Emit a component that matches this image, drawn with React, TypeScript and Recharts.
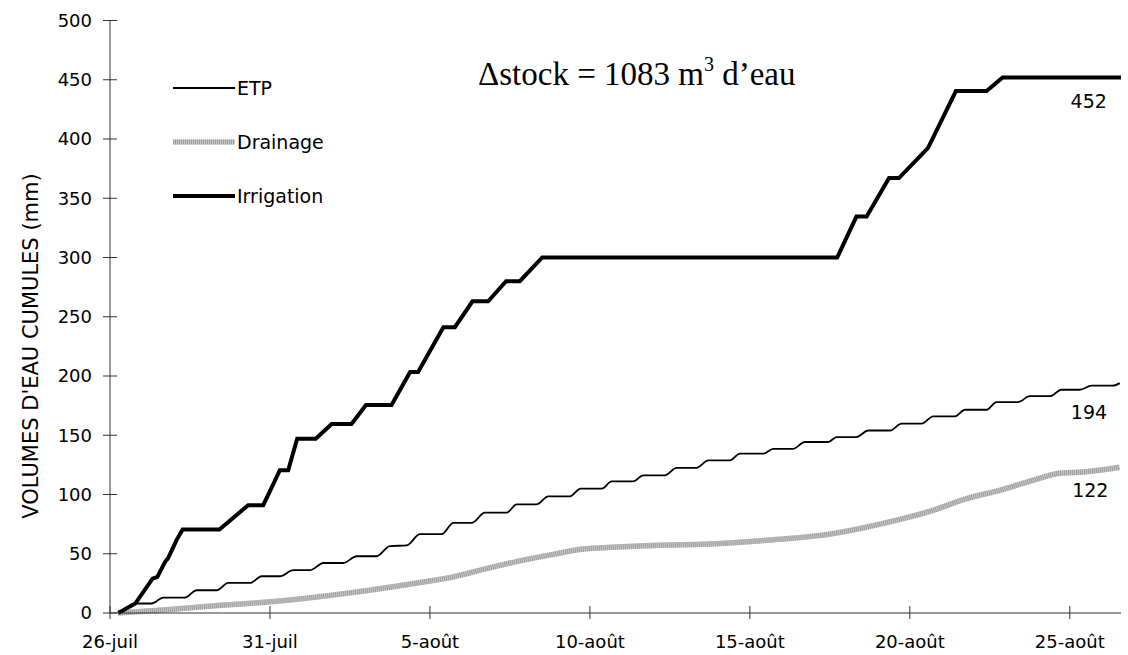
import React from 'react';
import { LineChart, Line, XAxis, YAxis, ReferenceDot } from 'recharts';

// jours depuis le 26-juil
const xTicks = [0, 5, 10, 15, 20, 25, 30];
const xTickLabels = ['26-juil', '31-juil', '5-août', '10-août', '15-août', '20-août', '25-août'];
const yTicks = [0, 50, 100, 150, 200, 250, 300, 350, 400, 450, 500];

const etpDays = [
  0.31, 0.83, 1.3, 1.67, 2.34, 2.71, 3.33, 3.7, 4.38, 4.74, 5.31, 5.73, 6.25, 6.67, 7.29, 7.71,
  8.33, 8.75, 9.27, 9.69, 10.37, 10.73, 11.3, 11.72, 12.4, 12.71, 13.33, 13.7, 14.38, 14.71,
  15.37, 15.68, 16.35, 16.67, 17.34, 17.71, 18.33, 18.7, 19.38, 19.69, 20.42, 20.73, 21.35, 21.72,
  22.45, 22.71, 23.33, 23.7, 24.38, 24.74, 25.37, 25.73, 26.41, 26.72, 27.4, 27.71, 28.38, 28.75,
  29.38, 29.74, 30.31, 30.68, 31.35, 31.56,
];
const etpValues = [
  0, 8, 8, 13, 13, 19.2, 19.2, 25.4, 25.4, 31, 31, 36.1, 36.1, 42.2, 42.2, 47.9,
  47.9, 56.5, 57, 66.5, 66.5, 76, 76, 84.7, 84.7, 91.7, 91.7, 98.5, 98.5, 105,
  105, 111, 111, 116.2, 116.2, 122.5, 122.5, 128.8, 128.8, 134.5, 134.5, 138.5, 138.5, 144.3,
  144.3, 148.5, 148.5, 154, 154, 159.8, 159.8, 166, 166, 171.5, 171.5, 178, 178, 183,
  183, 188.4, 188.4, 191.8, 191.8, 194,
];

const drainageDays = [
  0.25, 1.88, 3.2, 5.0, 7.5, 9.69, 10.73, 11.77, 12.81, 13.85, 14.79, 15.52, 16.98, 19.06, 20.52,
  22.6, 23.65, 24.69, 25.73, 26.77, 27.81, 28.85, 29.69, 30.42, 31.56,
];
const drainageValues = [
  0, 3, 6, 9.4, 17, 25.7, 30.5, 37.5, 44, 49.5, 54, 55.2, 57, 58.6, 61.4,
  67, 72.5, 79, 86.7, 96.5, 103.5, 112, 118, 119, 123,
];

const irrigationDays = [
  0.26, 0.79, 1.33, 1.48, 1.72, 1.82, 2.08, 2.27, 3.42, 4.32, 4.79, 5.31, 5.57, 5.85, 6.43, 6.93,
  7.55, 8.0, 8.8, 9.38, 9.63, 10.42, 10.78, 11.33, 11.82, 12.38, 12.81, 13.51, 22.73, 23.33, 23.65,
  24.35, 24.66, 25.57, 26.44, 27.4, 27.9, 31.6,
];
const irrigationValues = [
  0, 8, 29, 30.5, 43, 46.5, 61.5, 70.5, 70.5, 91, 91, 120.5, 120.5, 147, 147, 159.5,
  159.5, 175.5, 175.5, 203.3, 203.3, 241.2, 241.2, 263, 263, 280, 280, 300, 300, 334.5, 334.5,
  367, 367, 392.5, 440.5, 440.5, 452, 452,
];

const toPoints = (days: number[], values: number[]) =>
  days.map((d, i) => ({ day: d, v: values[i] }));

const etp = toPoints(etpDays, etpValues);
const drainage = toPoints(drainageDays, drainageValues);
const irrigation = toPoints(irrigationDays, irrigationValues);

const FONT = '"DejaVu Sans", Arial, sans-serif';
const AXIS = '#333';

const XTick = (props: any) => {
  const { x, y, payload } = props;
  const i = xTicks.indexOf(payload.value);
  return (
    <g>
      <line x1={x} x2={x} y1={y - 7} y2={y + 6} stroke={AXIS} strokeWidth={1} />
      <text x={x} y={y + 35} textAnchor="middle" fontSize={18} fontFamily={FONT} fill="#000">
        {xTickLabels[i]}
      </text>
    </g>
  );
};

const YTick = (props: any) => {
  const { x, y, payload } = props;
  return (
    <g>
      <line x1={x - 7} x2={x + 7} y1={y} y2={y} stroke={AXIS} strokeWidth={1} />
      <text x={x - 18} y={y} dy="0.36em" textAnchor="end" fontSize={18} fontFamily={FONT} fill="#000">
        {payload.value}
      </text>
    </g>
  );
};

const legendRows = [
  { name: 'ETP', color: '#000', width: 1.8, pattern: false },
  { name: 'Drainage', color: '#c8c8c8', width: 5, pattern: true },
  { name: 'Irrigation', color: '#000', width: 4, pattern: false },
];

const endLabel = (text: string) => ({
  value: text,
  position: 'center' as const,
  fontSize: 19,
  fontFamily: FONT,
  fill: '#000',
});

export default function App() {
  return (
    <div style={{ position: 'absolute', left: 0, top: 0, width: 1128, height: 655, background: '#fff' }}>
      <LineChart width={1128} height={655} margin={{ top: 20.5, right: 7, left: 0, bottom: 0 }}>
        <XAxis
          dataKey="day"
          type="number"
          domain={[0, 31.6]}
          ticks={xTicks}
          tick={<XTick />}
          tickLine={false}
          tickSize={0}
          tickMargin={0}
          height={42}
          stroke={AXIS}
          allowDataOverflow
        />
        <YAxis
          type="number"
          domain={[0, 500]}
          ticks={yTicks}
          width={110}
          tick={<YTick />}
          tickLine={false}
          tickSize={0}
          tickMargin={0}
          stroke={AXIS}
        />
        <Line
          data={drainage}
          dataKey="v"
          name="Drainage"
          type="monotone"
          stroke="#c8c8c8"
          strokeWidth={5.5}
          dot={false}
          isAnimationActive={false}
        />
        <Line
          data={drainage}
          dataKey="v"
          name="Drainage motif"
          type="monotone"
          stroke="#9c9c9c"
          strokeWidth={5.5}
          strokeDasharray="1 1"
          dot={false}
          isAnimationActive={false}
        />
        <Line
          data={etp}
          dataKey="v"
          name="ETP"
          type="monotone"
          stroke="#000"
          strokeWidth={1.8}
          dot={false}
          isAnimationActive={false}
        />
        <Line
          data={irrigation}
          dataKey="v"
          name="Irrigation"
          type="linear"
          stroke="#000"
          strokeWidth={4}
          dot={false}
          isAnimationActive={false}
        />
        <ReferenceDot x={30.59} y={432} r={0} fill="none" stroke="none" label={endLabel('452')} />
        <ReferenceDot x={30.6} y={169} r={0} fill="none" stroke="none" label={endLabel('194')} />
        <ReferenceDot x={30.64} y={103.4} r={0} fill="none" stroke="none" label={endLabel('122')} />
      </LineChart>

      <svg style={{ position: 'absolute', left: 0, top: 0 }} width={60} height={655}>
        <text
          x={31}
          y={346}
          transform="rotate(-90 31 346)"
          textAnchor="middle"
          dominantBaseline="central"
          fontSize={21}
          fontFamily={FONT}
          fill="#000"
        >
          VOLUMES D'EAU CUMULES (mm)
        </text>
      </svg>

      <div style={{ position: 'absolute', left: 173, top: 61, fontFamily: FONT, fontSize: 19, color: '#000' }}>
        {legendRows.map((r) => (
          <div key={r.name} style={{ display: 'flex', alignItems: 'center', height: 54 }}>
            <svg width={64} height={10}>
              <line x1={0} x2={62} y1={5} y2={5} stroke={r.color} strokeWidth={r.width} />
              {r.pattern && (
                <line x1={0} x2={62} y1={5} y2={5} stroke="#9c9c9c" strokeWidth={5} strokeDasharray="1 1" />
              )}
            </svg>
            <span>{r.name}</span>
          </div>
        ))}
      </div>

      <div
        style={{
          position: 'absolute',
          left: 478,
          top: 54,
          fontFamily: '"Liberation Serif", "Times New Roman", serif',
          fontSize: 33,
          lineHeight: '40px',
          color: '#000',
          whiteSpace: 'nowrap',
        }}
      >
        Δstock = 1083 m
        <span style={{ fontSize: 20, position: 'relative', top: -14 }}>3</span> d’eau
      </div>
    </div>
  );
}
